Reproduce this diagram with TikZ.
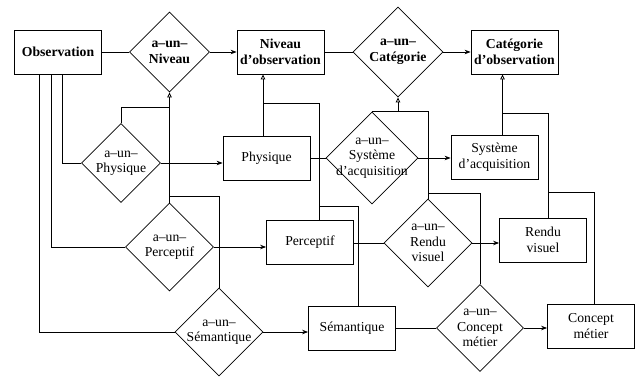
\documentclass[tikz,border=0pt]{standalone}
\usepackage{fontspec}
\setmainfont{Liberation Serif}
\usetikzlibrary{arrows.meta,shapes.geometric,calc}

\begin{document}
\begin{tikzpicture}[x=1pt,y=1pt,line width=0.8pt,
    font=\fontsize{13.7}{15.5}\selectfont,
    ent/.style={draw,rectangle,minimum width=87pt,minimum height=44pt,inner sep=0pt,align=center},
    rel/.style={draw,diamond,inner sep=-30pt,minimum width=#1,minimum height=#1,align=center},
    rel/.default=88pt,
    topline/.style={font=\fontsize{13.7}{16}\selectfont\bfseries},
    has/.style={-{Stealth[length=6pt,width=4.5pt]}},
    isa/.style={-{Triangle[open,length=5pt,width=4.5pt]}}]
  \useasboundingbox (0,0) rectangle (642,-376);
  % top row
  \node[ent,topline] (obs) at (58,-52) {Observation};
  \node[rel=80pt,topline] (nivD) at (169.5,-52) {a--un--\\Niveau};
  \node[ent,topline] (nivobs) at (280.5,-52) {Niveau\\d'observation};
  \node[rel=90pt,topline] (catD) at (398,-52) {a--un--\\Catégorie};
  \node[ent,topline] (catobs) at (514.5,-52) {Catégorie\\d'observation};
  % relations
  \node[rel=79pt] (physD) at (121,-163) {a--un--\\Physique};
  \node[rel] (percD) at (169.5,-247) {a--un--\\Perceptif};
  \node[rel] (semD) at (219,-332) {a--un--\\Sémantique};
  \node[rel=92pt] (sysD) at (372,-158) {a--un--\\Système\\d'acquisition};
  \node[rel] (rendD) at (428,-243) {a--un--\\Rendu\\visuel};
  \node[rel=87pt] (concD) at (480,-328) {a--un--\\Concept\\métier};
  % entities
  \node[ent] (phys) at (266.5,-158) {Physique};
  \node[ent] (perc) at (310,-242) {Perceptif};
  \node[ent] (sem) at (352,-328) {Sémantique};
  \node[ent] (sys) at (494.5,-157) {Système\\d'acquisition};
  \node[ent] (rend) at (543,-240) {Rendu\\visuel};
  \node[ent] (conc) at (591,-326) {Concept\\métier};

  \draw (obs.east) -- (nivD.west);
  \draw[has] (nivD.east) -- (nivobs.west);
  \draw (nivobs.east) -- (catD.west);
  \draw[has] (catD.east) -- (catobs.west);

  \draw ([xshift=4pt]obs.south) |- (physD.west);
  \draw ([xshift=-7pt]obs.south) |- (percD.west);
  \draw ([xshift=-19pt]obs.south) |- (semD.west);

  \draw[has] (physD.east) -- (physD.east -| phys.west);
  \draw[has] (percD.east) -- (percD.east -| perc.west);
  \draw[has] (semD.east) -- (semD.east -| sem.west);
  \draw (phys.east) -- (sysD.west);
  \draw (rendD.west -| perc.east) -- (rendD.west);
  \draw (sem.east) -- (concD.west);
  \draw[has] (sysD.east) -- (sysD.east -| sys.west);
  \draw[has] (rendD.east) -- (rendD.east -| rend.west);
  \draw[has] (concD.east) -- (concD.east -| conc.west);

  % a-un-Niveau
  \draw[isa] (percD.north) -- (nivD.south);
  \draw (physD.north) |- ([yshift=-15pt]nivD.south);
  \draw (semD.north) |- ([yshift=6pt]percD.north);
  % Niveau d'observation
  \draw[isa] ([xshift=-3.5pt]phys.north) -- ([xshift=-3.5pt]phys.north |- nivobs.south);
  \draw ([xshift=9pt]perc.north) |- ([xshift=-3.5pt,yshift=32pt]phys.north);
  \draw ([xshift=6pt]sem.north) |- ([xshift=9pt,yshift=13pt]perc.north);
  % a-un-Categorie
  \draw[isa] (catD.south |- sysD.north) -- (catD.south);
  \draw (sysD.north) -| (rendD.north);
  \draw (concD.north) |- ([yshift=5pt]rendD.north);
  % Categorie d'observation
  \draw[isa] ([xshift=8pt]sys.north) -- ([xshift=8pt]sys.north |- catobs.south);
  \draw ([xshift=5pt]rend.north) |- ([xshift=8pt,yshift=21pt]sys.north);
  \draw ([xshift=3pt]conc.north) |- ([xshift=5pt,yshift=25pt]rend.north);
\end{tikzpicture}
\end{document}
